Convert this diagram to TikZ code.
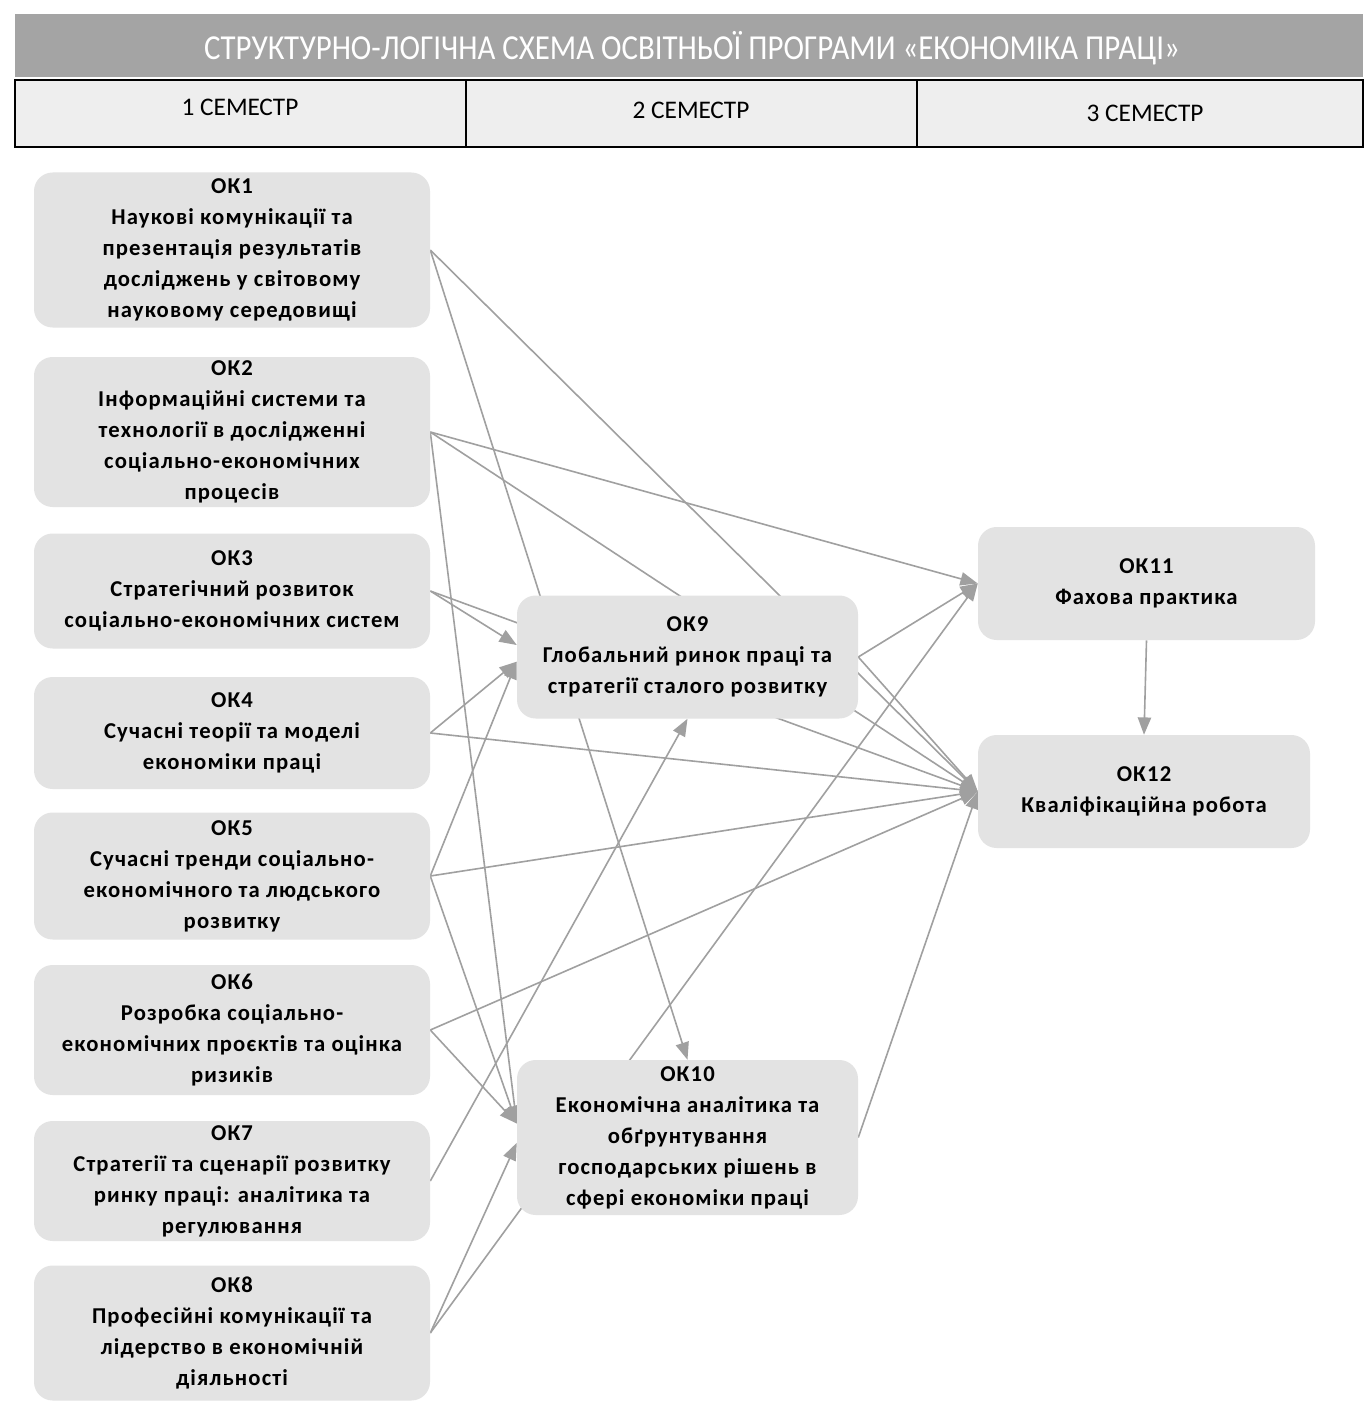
\documentclass[tikz,border=0pt]{standalone}
\usepackage{fontspec}
\setmainfont{Carlito}
\newfontfamily\hdrfont[FakeStretch=0.88]{Carlito}
\newfontfamily\bodyfont[LetterSpace=5]{Carlito}
\usetikzlibrary{arrows.meta,backgrounds}
\definecolor{boxgray}{HTML}{E3E3E3}
\definecolor{linegray}{HTML}{A0A0A0}
\definecolor{hdrgray}{HTML}{A4A4A4}
\definecolor{semgray}{HTML}{EEEEEE}
\begin{document}
\begin{tikzpicture}[x=0.75pt,y=-0.75pt,
  course/.style={fill=boxgray, rounded corners=14pt, align=center, inner sep=0pt,
    font=\bodyfont\bfseries\fontsize{17}{23.25}\selectfont},
  leftbox/.style={course, minimum width=297pt},
  link/.style={draw=linegray, line width=1.2pt, -{Triangle[length=13pt,width=10pt]}},
  semcell/.style={draw=black, line width=1.5pt, fill=semgray},
  semtext/.style={font=\fontsize{19}{22}\selectfont},
]
\useasboundingbox (0,0) rectangle (1363,1427);

% header
\fill[hdrgray] (15,14) rectangle (1363,77);
\node[text=white, font=\hdrfont\fontsize{26.3}{30}\selectfont] (title) at (692,48)
  {СТРУКТУРНО-ЛОГІЧНА СХЕМА ОСВІТНЬОЇ ПРОГРАМИ «ЕКОНОМІКА ПРАЦІ»};
\draw[semcell] (15,80) rectangle (466,147);
\draw[semcell] (466,80) rectangle (917,147);
\draw[semcell] (917,80) rectangle (1363,147);
\node[semtext] (s1) at (240,107) {1 СЕМЕСТР};
\node[semtext] (s2) at (691,110) {2 СЕМЕСТР};
\node[semtext] (s3) at (1145,113) {3 СЕМЕСТР};

% semester 1
\node[leftbox, minimum height=116.25pt] (OK1) at (232,250)
  {ОК1\\Наукові комунікації та\\презентація результатів\\досліджень у світовому\\науковому середовищі};
\node[leftbox, minimum height=112.5pt] (OK2) at (232,432)
  {ОК2\\Інформаційні системи та\\технології в дослідженні\\соціально-економічних\\процесів};
\node[leftbox, minimum height=86.25pt] (OK3) at (232,591)
  {ОК3\\Стратегічний розвиток\\соціально-економічних систем};
\node[leftbox, minimum height=84pt] (OK4) at (232,733)
  {ОК4\\Сучасні теорії та моделі\\економіки праці};
\node[leftbox, minimum height=95.25pt] (OK5) at (232,876)
  {ОК5\\Сучасні тренди соціально-\\економічного та людського\\розвитку};
\node[leftbox, minimum height=97.5pt] (OK6) at (232,1030)
  {ОК6\\Розробка соціально-\\економічних проєктів та оцінка\\ризиків};
\node[leftbox, minimum height=90pt] (OK7) at (232,1181)
  {ОК7\\Стратегії та сценарії розвитку\\ринку праці: аналітика та\\регулювання};
\node[leftbox, minimum height=101.25pt] (OK8) at (232,1333)
  {ОК8\\Професійні комунікації та\\лідерство в економічній\\діяльності};

% semester 2
\node[course, minimum width=255.75pt, minimum height=92.25pt] (OK9) at (687.5,657)
  {ОК9\\Глобальний ринок праці та\\стратегії сталого розвитку};
\node[course, minimum width=255.75pt, minimum height=116.25pt] (OK10) at (687.5,1137.5)
  {ОК10\\Економічна аналітика та\\обґрунтування\\господарських рішень в\\сфері економіки праці};

% semester 3
\node[course, minimum width=252.75pt, minimum height=84.75pt] (OK11) at (1146.5,583.5)
  {ОК11\\Фахова практика};
\node[course, minimum width=249pt, minimum height=84.75pt] (OK12) at (1144,791.5)
  {ОК12\\Кваліфікаційна робота};

\begin{pgfonlayer}{background}
\fill[white] (0,0) rectangle (1363,1427);
\draw[link] (OK1.east) -- (OK12.west);
\draw[link] (OK1.east) -- (OK10.north);
\draw[link] (OK2.east) -- (OK11.west);
\draw[link] (OK2.east) -- (OK12.west);
\draw[link] (OK2.east) -- ([yshift=10.5pt]OK10.west);
\draw[link] (OK3.east) -- ([yshift=9pt]OK9.west);
\draw[link] (OK3.east) -- (OK12.west);
\draw[link] (OK4.east) -- ([yshift=-3.5pt]OK9.west);
\draw[link] (OK4.east) -- (OK12.west);
\draw[link] (OK5.east) -- ([yshift=-3.5pt]OK9.west);
\draw[link] (OK5.east) -- (OK12.west);
\draw[link] (OK5.east) -- ([yshift=10.5pt]OK10.west);
\draw[link] (OK6.east) -- ([yshift=10.5pt]OK10.west);
\draw[link] (OK6.east) -- (OK12.west);
\draw[link] (OK7.east) -- (OK9.south);
\draw[link] (OK8.east) -- ([yshift=-4pt]OK10.west);
\draw[link] (OK8.east) -- (OK11.west);
\draw[link] (OK9.east) -- (OK11.west);
\draw[link] (OK9.east) -- (OK12.west);
\draw[link] (OK10.east) -- (OK12.west);
\draw[link] (OK11.south) -- (OK12.north);
\end{pgfonlayer}
\end{tikzpicture}
\end{document}
